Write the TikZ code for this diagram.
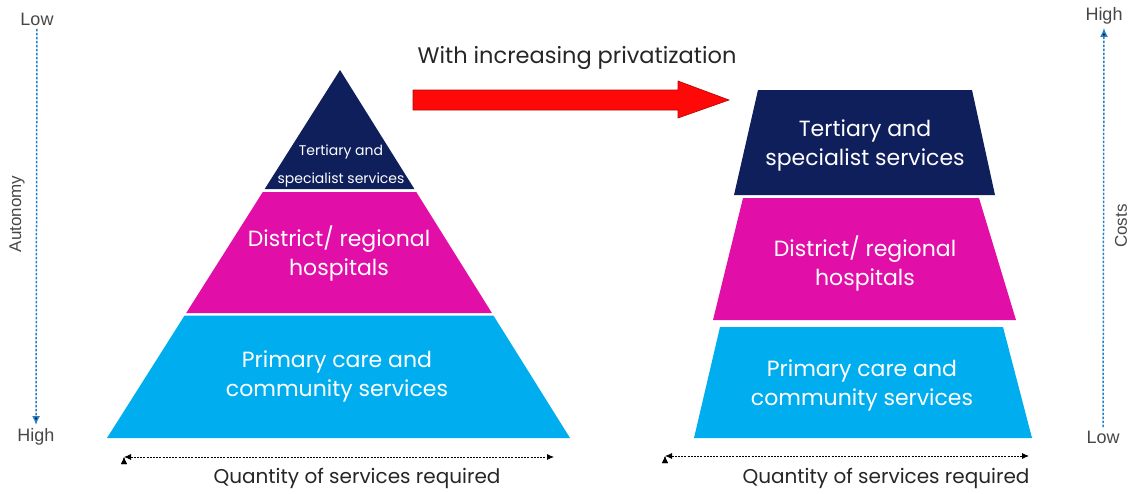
\documentclass[tikz,border=0pt]{standalone}
\usepackage{fontspec}
\setmainfont{Poppins}
\newfontfamily\axisfont{Liberation Sans}
\usepackage{tikz}
\usetikzlibrary{shapes,arrows,arrows.meta,positioning}
\definecolor{tiernavy}{RGB}{15, 31, 92}
\definecolor{tierpink}{RGB}{226, 14, 168}
\definecolor{tiercyan}{RGB}{0, 174, 239}
\definecolor{arrowred}{RGB}{255, 8, 8}
\definecolor{axisblue}{RGB}{40, 128, 198}
\definecolor{darktext}{RGB}{38, 38, 38}
\tikzstyle{tiertext} = [draw=none, fill=none, text=white, align=center, font=\fontsize{22}{29}\selectfont]
\tikzstyle{smalltier} = [draw=none, fill=none, text=white, align=center, font=\fontsize{14}{28}\selectfont]
\tikzstyle{textonly} = [draw=none, fill=none, text=darktext, text centered, font=\fontsize{20}{24}\selectfont]
\tikzstyle{axistext} = [draw=none, fill=none, text=darktext!85, text centered, font=\axisfont\fontsize{18}{20}\selectfont]
\tikzstyle{axisedge} = [draw=axisblue, line width=1.5pt, dash pattern=on 2.5pt off 1.5pt, >={Latex[length=9pt,width=8pt]}, ->]
\tikzstyle{qedge} = [draw=black, line width=0.8pt, dash pattern=on 2pt off 1.2pt, >={Latex[length=7pt,width=6pt]}, <->]

\begin{document}
\begin{tikzpicture}[x=1pt, y=-1pt]
\useasboundingbox (0,0) rectangle (1129,493);

% pyramid (left) =============================
\coordinate (apex) at (340,70);
\fill[tiernavy] (apex) -- (414.4,189) -- (264.7,189) -- cycle;
\fill[tierpink] (262.8,192) -- (416.3,192) -- (491.9,313) -- (186.2,313) -- cycle;
\fill[tiercyan] (184.6,315.5) -- (493.4,315.5) -- (570,438) -- (107,438) -- cycle;

\node[smalltier] (ltop) at (341,166) {Tertiary and\\specialist services};
\node[tiertext] (lmid) at (339,253) {District/ regional\\hospitals};
\node[tiertext] (lbot) at (337,376) {Primary care and\\community services};

% stacked blocks (right) =============================
\fill[tiernavy] (758,90) -- (972,90) -- (995,195) -- (734,195) -- cycle;
\fill[tierpink] (743,198) -- (979,198) -- (1016,320) -- (713,320) -- cycle;
\fill[tiercyan] (720,327) -- (1003,327) -- (1032,438) -- (694,438) -- cycle;

\node[tiertext] (rtop) at (865,145) {Tertiary and\\specialist services};
\node[tiertext] (rmid) at (865,263) {District/ regional\\hospitals};
\node[tiertext] (rbot) at (862,385) {Primary care and\\community services};

% privatization arrow
\node[textonly, font=\fontsize{22.5}{26}\selectfont] (priv) at (577,58) {With increasing privatization};
\filldraw[fill=arrowred, draw=arrowred!70!black, line width=0.6pt]
  (413,90) -- (678,90) -- (678,81) -- (729,100) -- (678,118) -- (678,110) -- (413,110) -- cycle;

% axes
\node[axistext] (alow) at (37,19) {Low};
\node[axistext] (ahigh) at (36,437) {High};
\node[axistext, font=\axisfont\fontsize{17}{20}\selectfont, rotate=90] (auto) at (17,214) {Autonomy};
\path[axisedge] (alow) edge (ahigh);

\node[axistext] (chigh) at (1104,16) {High};
\node[axistext] (clow) at (1103,437) {Low};
\node[axistext, font=\axisfont\fontsize{17}{20}\selectfont, rotate=90] (costs) at (1121,226) {Costs};
\path[axisedge] (clow) edge (chigh);

% quantity edges
\coordinate (q1l) at (124,457);
\coordinate (q1r) at (554,457);
\coordinate (q2l) at (665,456);
\coordinate (q2r) at (1029,456);
\path[qedge] (q1l) edge (q1r);
\path[qedge] (q2l) edge (q2r);
\node[textonly] (q1) at (357,478) {Quantity of services required};
\node[textonly] (q2) at (886,478) {Quantity of services required};

\end{tikzpicture}
\end{document}
